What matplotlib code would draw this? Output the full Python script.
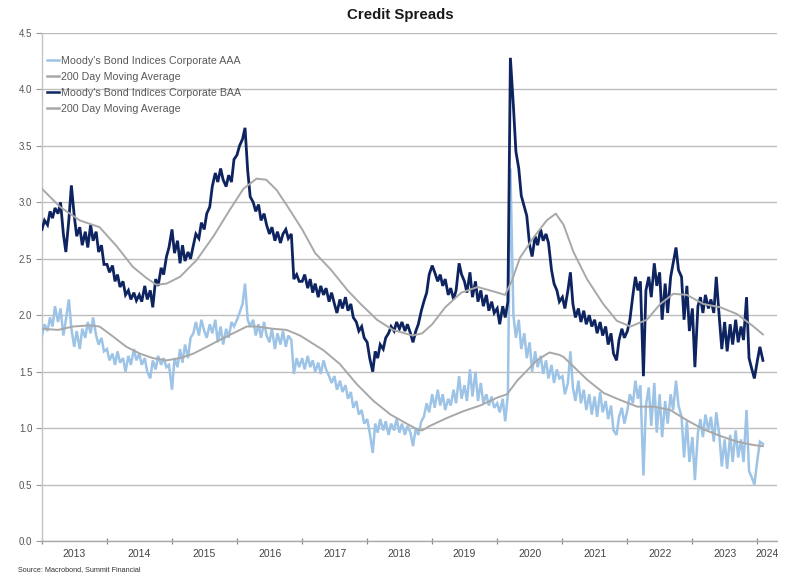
import matplotlib
matplotlib.use("Agg")
import matplotlib.pyplot as plt
import matplotlib.ticker as mticker
import numpy as np
import pandas as pd

plt.rcParams["font.family"] = ["Liberation Sans", "DejaVu Sans"]

# ---- data: spreads over 10y Treasury (%), sampled on the 1st and 15th of each month
baa_2013 = [2.76, 2.84, 2.80, 2.92, 2.86, 2.95, 2.90, 3.00, 2.72, 2.56, 2.85, 3.15,
            2.88, 2.70, 2.78, 2.62, 2.74, 2.60, 2.80, 2.66, 2.74, 2.56, 2.62, 2.45]
baa_2014 = [2.45, 2.38, 2.44, 2.30, 2.36, 2.25, 2.30, 2.18, 2.22, 2.14, 2.20, 2.13,
            2.18, 2.12, 2.26, 2.14, 2.22, 2.07, 2.32, 2.26, 2.42, 2.36, 2.52, 2.60]
baa_2015 = [2.76, 2.55, 2.66, 2.46, 2.62, 2.48, 2.56, 2.50, 2.62, 2.72, 2.68, 2.82,
            2.76, 2.90, 2.96, 3.14, 3.26, 3.18, 3.30, 3.20, 3.14, 3.24, 3.18, 3.38]
baa_2016 = [3.42, 3.50, 3.56, 3.66, 3.28, 3.05, 3.00, 2.92, 2.98, 2.84, 2.90, 2.80,
            2.72, 2.78, 2.66, 2.74, 2.64, 2.72, 2.76, 2.68, 2.72, 2.32, 2.36, 2.30]
baa_2017 = [2.30, 2.36, 2.24, 2.32, 2.20, 2.28, 2.16, 2.26, 2.18, 2.24, 2.12, 2.20,
            2.10, 2.02, 2.14, 2.06, 2.16, 2.04, 2.10, 1.98, 1.94, 1.86, 1.90, 1.80]
baa_2018 = [1.76, 1.62, 1.50, 1.68, 1.62, 1.74, 1.70, 1.80, 1.84, 1.90, 1.86, 1.94,
            1.88, 1.94, 1.86, 1.92, 1.84, 1.76, 1.86, 1.92, 2.04, 2.12, 2.20, 2.36]
baa_2019 = [2.44, 2.38, 2.30, 2.36, 2.26, 2.32, 2.18, 2.24, 2.14, 2.22, 2.46, 2.36,
            2.30, 2.20, 2.38, 2.16, 2.30, 2.12, 2.22, 2.08, 2.18, 2.04, 2.12, 2.02]
baa_2020 = [2.06, 1.92, 2.08, 1.98, 2.12, 4.28, 3.85, 3.45, 3.30, 3.06, 2.96, 2.88,
            2.62, 2.52, 2.70, 2.62, 2.76, 2.66, 2.72, 2.64, 2.40, 2.28, 2.22, 2.12]
baa_2021 = [2.16, 2.06, 2.22, 2.38, 2.10, 1.98, 2.06, 1.94, 2.04, 1.92, 2.00, 1.90,
            1.96, 1.84, 1.94, 1.82, 1.90, 1.74, 1.84, 1.66, 1.60, 1.78, 1.88, 1.80]
baa_2022 = [1.86, 1.96, 2.18, 2.34, 2.22, 2.30, 1.46, 2.22, 2.34, 2.16, 2.46, 2.26,
            2.38, 1.96, 2.28, 2.02, 2.34, 2.46, 2.60, 2.40, 2.34, 1.96, 2.26, 1.86]
baa_2023 = [2.06, 1.54, 2.08, 2.16, 2.02, 2.18, 2.06, 2.14, 2.02, 2.34, 1.98, 1.70,
            1.94, 1.68, 1.92, 1.74, 1.96, 1.76, 1.90, 1.78, 2.16, 1.62, 1.52, 1.44]
baa_2024 = [1.60, 1.72, 1.60]

aaa_2013 = [1.82, 1.92, 1.86, 1.98, 1.90, 2.08, 1.94, 2.06, 1.82, 1.96, 2.14, 1.88,
            1.72, 1.86, 1.70, 1.88, 1.80, 1.94, 1.84, 1.98, 1.82, 1.74, 1.80, 1.68]
aaa_2014 = [1.70, 1.60, 1.66, 1.56, 1.68, 1.58, 1.62, 1.50, 1.64, 1.56, 1.70, 1.60,
            1.66, 1.56, 1.62, 1.50, 1.44, 1.60, 1.52, 1.64, 1.56, 1.62, 1.54, 1.56]
aaa_2015 = [1.34, 1.62, 1.54, 1.70, 1.58, 1.74, 1.62, 1.80, 1.84, 1.94, 1.82, 1.96,
            1.86, 1.80, 1.92, 1.84, 1.96, 1.76, 1.90, 1.74, 1.88, 1.80, 1.94, 1.90]
aaa_2016 = [1.96, 2.02, 2.10, 2.28, 1.96, 1.90, 1.96, 1.82, 1.92, 1.80, 1.94, 1.82,
            1.76, 1.88, 1.70, 1.84, 1.74, 1.86, 1.72, 1.82, 1.78, 1.48, 1.62, 1.54]
aaa_2017 = [1.62, 1.52, 1.64, 1.54, 1.60, 1.50, 1.58, 1.48, 1.60, 1.52, 1.46, 1.40,
            1.46, 1.34, 1.42, 1.32, 1.38, 1.26, 1.32, 1.18, 1.24, 1.12, 1.16, 1.04]
aaa_2018 = [1.08, 0.96, 0.78, 1.04, 0.96, 1.08, 0.98, 1.06, 0.94, 1.04, 0.98, 1.08,
            0.96, 1.04, 0.94, 1.02, 0.96, 0.84, 1.00, 0.94, 1.06, 1.10, 1.22, 1.14]
aaa_2019 = [1.30, 1.18, 1.34, 1.20, 1.30, 1.16, 1.26, 1.20, 1.34, 1.22, 1.46, 1.26,
            1.38, 1.24, 1.52, 1.28, 1.50, 1.24, 1.40, 1.22, 1.30, 1.20, 1.28, 1.18]
aaa_2020 = [1.22, 1.14, 1.26, 1.06, 1.30, 3.30, 2.00, 1.80, 1.96, 1.70, 1.84, 1.62,
            1.76, 1.50, 1.68, 1.54, 1.64, 1.48, 1.60, 1.44, 1.56, 1.40, 1.52, 1.44]
aaa_2021 = [1.46, 1.30, 1.40, 1.68, 1.36, 1.24, 1.42, 1.22, 1.34, 1.16, 1.30, 1.12,
            1.28, 1.10, 1.32, 1.14, 1.24, 1.08, 1.20, 0.98, 0.94, 1.10, 1.18, 1.04]
aaa_2022 = [1.16, 1.30, 1.22, 1.42, 1.26, 1.38, 0.58, 1.20, 1.36, 1.02, 1.40, 0.96,
            1.30, 0.92, 1.24, 1.04, 1.30, 1.16, 1.42, 1.20, 1.10, 0.74, 1.06, 0.70]
aaa_2023 = [0.92, 0.54, 0.96, 1.08, 0.92, 1.12, 0.98, 1.10, 0.88, 1.14, 0.94, 0.66,
            0.90, 0.64, 0.94, 0.70, 0.98, 0.74, 0.90, 0.70, 1.16, 0.62, 0.56, 0.50]
aaa_2024 = [0.72, 0.88, 0.86]

# 200-day moving averages (knot dates and values)
baa_ma_dates = ["2013-01-01", "2013-04-12", "2013-08-01", "2013-11-20", "2014-02-25",
                "2014-05-25", "2014-08-10", "2014-10-05", "2014-12-01", "2015-02-15",
                "2015-05-20", "2015-08-22", "2015-11-20", "2016-02-06", "2016-04-20",
                "2016-06-13", "2016-08-10", "2016-10-08", "2017-01-01", "2017-03-15",
                "2017-06-13", "2017-09-13", "2017-11-25", "2018-02-25", "2018-05-25",
                "2018-09-13", "2018-11-06", "2019-01-01", "2019-03-15", "2019-06-13",
                "2019-09-13", "2019-12-13", "2020-02-14", "2020-03-22", "2020-05-08",
                "2020-07-24", "2020-10-05", "2020-11-25", "2021-01-08", "2021-03-04",
                "2021-05-19", "2021-08-18", "2021-11-03", "2022-01-19", "2022-04-20",
                "2022-07-05", "2022-09-16", "2022-12-01", "2023-03-03", "2023-06-07",
                "2023-09-09", "2023-12-10", "2024-02-01"]
baa_ma = [3.12, 2.96, 2.84, 2.78, 2.61, 2.43, 2.33, 2.27, 2.28, 2.34,
          2.49, 2.70, 2.93, 3.12, 3.21, 3.20, 3.11, 2.97, 2.76, 2.55,
          2.40, 2.22, 2.10, 1.96, 1.87, 1.82, 1.84, 1.92, 2.07, 2.20,
          2.25, 2.21, 2.18, 2.30, 2.51, 2.69, 2.84, 2.90, 2.80, 2.56,
          2.32, 2.10, 1.95, 1.90, 1.96, 2.10, 2.19, 2.18, 2.10, 2.07,
          2.01, 1.90, 1.83]

aaa_ma_dates = ["2013-01-01", "2013-04-01", "2013-06-25", "2013-09-25", "2013-11-20",
                "2014-02-05", "2014-04-20", "2014-07-05", "2014-09-15", "2014-12-01",
                "2015-02-15", "2015-05-01", "2015-07-15", "2015-09-25", "2015-12-10",
                "2016-02-25", "2016-04-20", "2016-07-20", "2016-10-05", "2016-12-20",
                "2017-04-30", "2017-07-30", "2017-11-03", "2018-02-06", "2018-05-12",
                "2018-08-10", "2018-10-08", "2018-11-06", "2018-12-20", "2019-03-25",
                "2019-06-25", "2019-09-27", "2020-01-01", "2020-02-25", "2020-04-22",
                "2020-07-05", "2020-08-10", "2020-10-20", "2020-12-13", "2021-01-08",
                "2021-05-19", "2021-08-22", "2021-11-20", "2022-02-25", "2022-05-30",
                "2022-08-30", "2022-12-01", "2023-03-03", "2023-06-07", "2023-09-09",
                "2023-12-10", "2024-02-01"]
aaa_ma = [1.88, 1.87, 1.90, 1.91, 1.90, 1.81, 1.72, 1.66, 1.62, 1.60,
          1.62, 1.66, 1.72, 1.78, 1.84, 1.90, 1.90, 1.88, 1.87, 1.82,
          1.69, 1.57, 1.39, 1.24, 1.12, 1.04, 0.99, 0.98, 1.02, 1.09,
          1.15, 1.20, 1.27, 1.30, 1.42, 1.54, 1.60, 1.67, 1.65, 1.63,
          1.43, 1.31, 1.25, 1.19, 1.19, 1.16, 1.07, 0.99, 0.93, 0.88,
          0.85, 0.84]

series_labels = ["Moody's Bond Indices Corporate AAA", "200 Day Moving Average",
                 "Moody's Bond Indices Corporate BAA", "200 Day Moving Average"]
year_labels = [str(y) for y in range(2013, 2025)]
y_ticks = [0.0, 0.5, 1.0, 1.5, 2.0, 2.5, 3.0, 3.5, 4.0, 4.5]

baa = (baa_2013 + baa_2014 + baa_2015 + baa_2016 + baa_2017 + baa_2018 + baa_2019
       + baa_2020 + baa_2021 + baa_2022 + baa_2023 + baa_2024)
aaa = (aaa_2013 + aaa_2014 + aaa_2015 + aaa_2016 + aaa_2017 + aaa_2018 + aaa_2019
       + aaa_2020 + aaa_2021 + aaa_2022 + aaa_2023 + aaa_2024)
dates = pd.date_range("2013-01-01", periods=len(baa), freq="SMS")

# ---- figure
W, H = 790, 575
fig = plt.figure(figsize=(W / 100, H / 100), dpi=100)
L, R, T, B = 42, 777, 33, 541
ax = fig.add_axes([L / W, 1 - B / H, (R - L) / W, (B - T) / H])

c_aaa = "#9dc3e6"
c_baa = "#0e2460"
c_ma = "#a8a8a8"

ax.plot(dates, aaa, color=c_aaa, lw=1.8, zorder=3, label=series_labels[0],
        solid_joinstyle="miter")
ax.plot(pd.to_datetime(aaa_ma_dates), aaa_ma, color=c_ma, lw=1.4, zorder=4,
        label=series_labels[1])
ax.plot(dates, baa, color=c_baa, lw=2.0, zorder=5, label=series_labels[2],
        solid_joinstyle="miter")
ax.plot(pd.to_datetime(baa_ma_dates), baa_ma, color=c_ma, lw=1.4, zorder=6,
        label=series_labels[3])

ax.set_ylim(0, 4.5)
ax.set_xlim(pd.Timestamp("2013-01-01"), pd.Timestamp("2024-04-20"))

# y axis
ax.set_yticks(y_ticks)
ax.yaxis.set_major_formatter(mticker.FormatStrFormatter("%.1f"))
ax.yaxis.grid(True, color="#bdbdbd", lw=1.0)
ax.set_axisbelow(True)
ax.tick_params(axis="y", length=4, width=0.8, color="#9a9a9a", labelsize=7,
               labelcolor="#555555", pad=3)

# x axis: ticks at year starts, labels centred in each year
year_starts = [pd.Timestamp(f"{y}-01-01") for y in range(2013, 2025)]
label_pos = [pd.Timestamp(f"{y}-07-02") for y in range(2013, 2024)] + [pd.Timestamp("2024-02-26")]
ax.set_xticks(year_starts)
ax.set_xticklabels([])
ax.set_xticks(label_pos, minor=True)
ax.set_xticklabels(year_labels, minor=True)
ax.tick_params(axis="x", which="major", length=4, width=0.9, color="#8a8a8a",
               direction="inout")
ax.tick_params(axis="x", which="minor", length=0, labelsize=7.5,
               labelcolor="#444444", pad=6)

for s in ["top", "right"]:
    ax.spines[s].set_visible(False)
ax.spines["left"].set_color("#c4c4c4")
ax.spines["bottom"].set_color("#a9a9a9")
ax.spines["left"].set_linewidth(1.0)
ax.spines["bottom"].set_linewidth(1.0)

# legend
handles, labels = ax.get_legend_handles_labels()
leg = fig.legend(handles, labels, loc="upper left",
                 bbox_to_anchor=(47 / W, 1 - 56 / H), frameon=False,
                 fontsize=7.7, handlelength=1.15, handletextpad=0.15,
                 labelspacing=0.55, borderpad=0, borderaxespad=0)
for t in leg.get_texts():
    t.set_color("#595959")
for lh in leg.get_lines():
    lh.set_linewidth(1.8)

fig.text(400 / W, 1 - 15 / H, "Credit Spreads", ha="center", va="center",
         fontsize=10.8, fontweight="bold", color="#1a1a1a")
fig.text(18 / W, 1 - 570 / H, "Source: Macrobond, Summit Financial", ha="left",
         va="center", fontsize=5.2, color="#333333")

fig.savefig("out.png", dpi=100)
